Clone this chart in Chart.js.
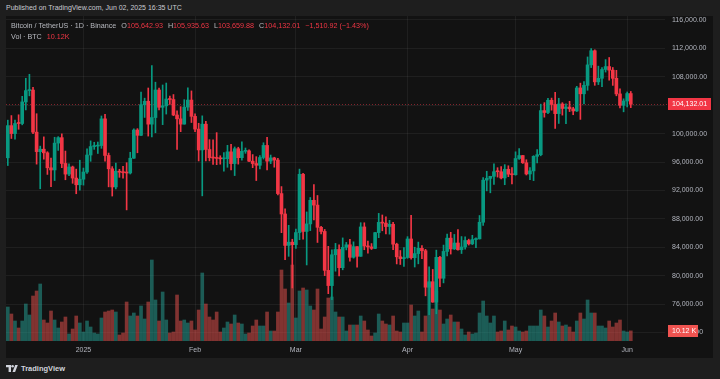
<!DOCTYPE html>
<html><head><meta charset="utf-8"><title>BTCUSDT 1D</title>
<script src="https://cdn.jsdelivr.net/npm/chart.js@4.4.1/dist/chart.umd.min.js"></script>
<style>
*{box-sizing:border-box}
html,body{margin:0;padding:0;width:720px;height:379px;overflow:hidden;background:#1e1e1e;font-family:"Liberation Sans",Arial,sans-serif;}
#pub{position:absolute;left:6px;top:3px;font-size:7px;line-height:10px;color:#c9cbd1;white-space:nowrap}
#panel{position:absolute;left:6px;top:16px;width:707px;height:342px;background:#121212;overflow:hidden}
#c{position:absolute;left:0;top:0}
#lg{position:absolute;left:5px;top:4px;font-size:7.2px;line-height:11px;color:#b8bac0;white-space:nowrap;z-index:2}
#lg .r{color:#f23645}
#lg .g{margin-left:3px}
#brand{position:absolute;left:6px;top:363px;height:11px;display:flex;align-items:center;gap:3px;color:#d1d4dc;font-size:7.5px;font-weight:bold;white-space:nowrap}
</style></head><body>
<div id="pub">Published on TradingView.com, Jun 02, 2025 16:35 UTC</div>
<div id="panel">
  <canvas id="c" width="707" height="342"></canvas>
  <div id="lg">
    <div>Bitcoin / TetherUS · 1D · Binance <span class="g">O</span><span class="r" id="vo"></span> <span class="g">H</span><span class="r" id="vh"></span> <span class="g">L</span><span class="r" id="vl"></span> <span class="g">C</span><span class="r" id="vc"></span> <span class="r g" id="vch"></span></div>
    <div>Vol · BTC <span class="r" id="vv" style="margin-left:3px"></span></div>
  </div>
</div>
<div id="brand"><svg width="12" height="7" viewBox="0 0 12 7"><path d="M0 0h5v7H2.6V2.3H0z" fill="#d1d4dc"/><circle cx="6.6" cy="1.3" r="1.3" fill="#d1d4dc"/><path d="M9.2 0h2.6L9.1 7H6.5z" fill="#d1d4dc"/></svg><span>TradingView</span></div>
<script>
// ---- categories (daily candles) ----
const dates = [
"2024-12-11","2024-12-12","2024-12-13","2024-12-14","2024-12-15","2024-12-16","2024-12-17","2024-12-18","2024-12-19","2024-12-20","2024-12-21","2024-12-22","2024-12-23","2024-12-24","2024-12-25","2024-12-26","2024-12-27","2024-12-28","2024-12-29","2024-12-30","2024-12-31",
"2025-01-01","2025-01-02","2025-01-03","2025-01-04","2025-01-05","2025-01-06","2025-01-07","2025-01-08","2025-01-09","2025-01-10","2025-01-11","2025-01-12","2025-01-13","2025-01-14","2025-01-15","2025-01-16","2025-01-17","2025-01-18","2025-01-19","2025-01-20","2025-01-21","2025-01-22","2025-01-23","2025-01-24","2025-01-25","2025-01-26","2025-01-27","2025-01-28","2025-01-29","2025-01-30","2025-01-31",
"2025-02-01","2025-02-02","2025-02-03","2025-02-04","2025-02-05","2025-02-06","2025-02-07","2025-02-08","2025-02-09","2025-02-10","2025-02-11","2025-02-12","2025-02-13","2025-02-14","2025-02-15","2025-02-16","2025-02-17","2025-02-18","2025-02-19","2025-02-20","2025-02-21","2025-02-22","2025-02-23","2025-02-24","2025-02-25","2025-02-26","2025-02-27","2025-02-28",
"2025-03-01","2025-03-02","2025-03-03","2025-03-04","2025-03-05","2025-03-06","2025-03-07","2025-03-08","2025-03-09","2025-03-10","2025-03-11","2025-03-12","2025-03-13","2025-03-14","2025-03-15","2025-03-16","2025-03-17","2025-03-18","2025-03-19","2025-03-20","2025-03-21","2025-03-22","2025-03-23","2025-03-24","2025-03-25","2025-03-26","2025-03-27","2025-03-28","2025-03-29","2025-03-30","2025-03-31",
"2025-04-01","2025-04-02","2025-04-03","2025-04-04","2025-04-05","2025-04-06","2025-04-07","2025-04-08","2025-04-09","2025-04-10","2025-04-11","2025-04-12","2025-04-13","2025-04-14","2025-04-15","2025-04-16","2025-04-17","2025-04-18","2025-04-19","2025-04-20","2025-04-21","2025-04-22","2025-04-23","2025-04-24","2025-04-25","2025-04-26","2025-04-27","2025-04-28","2025-04-29","2025-04-30",
"2025-05-01","2025-05-02","2025-05-03","2025-05-04","2025-05-05","2025-05-06","2025-05-07","2025-05-08","2025-05-09","2025-05-10","2025-05-11","2025-05-12","2025-05-13","2025-05-14","2025-05-15","2025-05-16","2025-05-17","2025-05-18","2025-05-19","2025-05-20","2025-05-21","2025-05-22","2025-05-23","2025-05-24","2025-05-25","2025-05-26","2025-05-27","2025-05-28","2025-05-29","2025-05-30","2025-05-31",
"2025-06-01","2025-06-02"];
// empty slots to the right of the last candle
const rightPadSlots = ["p1","p2","p3","p4","p5","p6","p7","p8","p9"];

// ---- series values (USDT) ----
const opens = [
96593,101125,100004,101424,101420,104463,106058,106133,100204,97461,97805,97291,95186,94881,98663,99430,95792,94299,95301,93738,92792,
93576,94591,96984,98174,98236,98314,102078,96922,95043,92484,94701,94566,94488,94450,96534,100504,99756,104078,104556,101331,102260,106143,103706,103910,104871,104796,102620,102082,101335,103733,104722,
102429,100635,97700,101328,97763,96612,96554,96506,96444,96462,97430,95778,97869,96609,97500,97569,96118,95780,95539,96635,98333,96125,96577,96273,91552,88680,84250,84708,
84350,86064,94270,86220,87281,90606,89931,86801,86222,80734,78596,82932,83680,81116,83983,84338,82579,84075,82718,86855,84167,84044,83832,86054,87498,87392,86910,87232,84424,82648,82390,
82550,85159,82516,83102,83843,83504,78368,79140,76271,82573,79627,83404,85276,83760,84592,83643,84031,84947,84474,85077,85179,87516,93442,93691,93980,94638,94631,93755,94978,94284,
94207,96492,96910,95891,94315,94748,96802,97032,103241,102970,104696,104106,102812,104169,103539,103744,103489,103191,106430,105606,106792,109679,111673,107287,107792,109034,109440,108938,107781,105589,103985,
104591,105642.93];
const highs = [
101895,102540,101895,102650,105250,107793,108353,106524,102800,98233,99540,97448,96538,99487,99569,99963,97544,95733,95426,95000,96250,
95150,97839,98976,98778,98813,102482,102724,97258,95350,95837,94977,95400,95900,97371,100681,100700,105865,104988,106422,109588,107240,106394,106850,107120,105286,105500,103222,103800,104782,106457,106012,
102784,101456,102500,101743,99149,99120,100137,96880,97323,98345,98478,98119,98080,98826,97972,97725,97046,96753,96899,98711,99475,96980,96671,96503,92540,89414,87078,85120,
86558,95000,94416,88967,91000,92810,91283,86940,86500,84124,83617,84540,84336,85310,84676,85117,84757,84075,87453,87443,84850,84513,86094,88765,88539,88292,87786,87515,84567,83534,83943,
85487,88500,83998,84720,84234,83704,81243,80868,83588,82700,84300,85856,86100,85800,86497,85500,85470,85132,85677,85320,88465,93817,94696,94000,95758,95199,95369,95630,95470,95199,
97438,97895,96943,96318,95199,96889,97732,104145,104361,104984,105000,105819,104976,104356,104192,104550,103716,106660,107108,107320,110797,111980,111800,109500,109313,110422,110718,109313,108910,106313,104900,
105866,105935.63];
const lows = [
95503,99311,99205,100609,101237,103333,105321,100000,95700,92232,96398,94250,92520,93390,97632,95200,93500,94080,93000,91530,92033,
92745,94392,96100,97780,97200,97926,96132,92500,91203,92206,93840,93712,89256,94310,96500,97300,99700,102277,99651,99550,100119,103340,101262,102750,104106,102520,97777,100272,101328,103278,101560,
100279,96150,91231,96150,96155,95676,95620,95688,94713,95256,94876,94088,95700,96252,97223,96055,95205,93388,95030,96415,94871,95770,95270,91371,86050,82256,82716,78258,
83824,85050,85117,81500,86335,87836,84667,85878,80000,77459,76606,80620,79939,80818,83618,82017,82457,81180,82715,83647,83175,83675,83794,85346,86310,85862,85837,83646,81644,81565,81279,
82432,82320,81211,81659,82368,77153,74508,76239,74620,78456,78972,82769,83034,83678,83600,83111,83736,84303,84365,83949,85144,87084,91935,91660,92855,93871,93602,92800,93935,92910,
94139,96350,95800,94172,93514,93377,95855,96876,102315,102818,103300,100719,101429,102602,101383,103100,102659,103105,102000,104191,106102,109300,106800,106900,106600,108668,107522,106789,105322,103621,103068,
103752,103659.88];
const closes = [
101125,100004,101424,101420,104463,106058,106133,100204,97461,97805,97291,95186,94881,98663,99430,95792,94299,95301,93738,92792,93576,
94591,96984,98174,98236,98314,102078,96922,95043,92484,94701,94566,94488,94450,96534,100504,99756,104078,104556,101331,102260,106143,103706,103910,104871,104796,102620,102082,101335,103733,104722,102429,
100635,97700,101328,97763,96612,96554,96506,96444,96462,97430,95778,97869,96609,97500,97569,96118,95780,95539,96635,98333,96125,96577,96273,91552,88680,84250,84708,84350,
86064,94270,86220,87281,90606,89931,86801,86222,80734,78596,82932,83680,81116,83983,84338,82579,84075,82718,86855,84167,84044,83832,86054,87498,87392,86910,87232,84424,82648,82390,82550,
85159,82516,83102,83843,83504,78368,79140,76271,82573,79627,83404,85276,83760,84592,83643,84031,84947,84474,85077,85179,87516,93442,93691,93980,94638,94631,93755,94978,94284,94207,
96492,96910,95891,94315,94748,96802,97032,103241,102970,104696,104106,102812,104169,103539,103744,103489,103191,106430,105606,106792,109679,111673,107287,107792,109034,109440,108938,107781,105589,103985,104591,
105642.93,104132.01];
// volume, thousands of BTC
const volumes = [
34,27,20,13,20,37,26,45,50,57,21,18,30,21,13,19,24,7,12,25,18,
9,20,14,8,7,23,29,30,31,29,6,8,39,25,28,25,35,22,39,81,41,20,49,21,8,9,46,20,21,18,20,
11,31,68,37,24,21,29,9,13,19,17,26,18,17,7,8,15,21,15,15,29,10,10,29,71,52,38,76,
23,50,53,51,35,31,52,12,24,43,44,29,24,24,10,16,16,16,25,20,11,5,8,27,20,17,16,25,10,9,18,
18,36,25,30,9,25,58,32,50,31,17,22,26,19,19,12,6,9,7,8,28,40,25,18,25,9,10,20,11,15,
14,10,9,10,15,15,15,31,25,14,20,28,19,15,16,14,9,20,28,22,41,28,28,15,15,13,20,14,18,21,10,
9,10.12];

// ---- tick labels ----
const monthTicks = {"2025-01-01":"2025","2025-02-01":"Feb","2025-03-01":"Mar","2025-04-01":"Apr","2025-05-01":"May","2025-06-01":"Jun"};
const priceTicks = [72000,76000,80000,84000,88000,92000,96000,100000,104000,108000,112000,116000];

// ---- styling ----
const UP = '#089981', DN = '#f23645';
const VUP = 'rgba(38,166,154,0.5)', VDN = 'rgba(239,83,80,0.5)';
const GRID = 'rgba(255,255,255,0.055)';
const AXIS_TXT = '#b2b5be';
const FONT = '"Liberation Sans", Arial, sans-serif';

const N = dates.length;
const labels = dates.concat(rightPadSlots);
const isUp = closes.map((c, i) => c >= opens[i]);
const fmt = v => v.toLocaleString('en-US', {minimumFractionDigits: 2, maximumFractionDigits: 2});
const lastClose = closes[N - 1], lastOpen = opens[N - 1], lastVol = volumes[N - 1];

// legend texts
document.getElementById('vo').textContent = fmt(opens[N-1]);
document.getElementById('vh').textContent = fmt(highs[N-1]);
document.getElementById('vl').textContent = fmt(lows[N-1]);
document.getElementById('vc').textContent = fmt(closes[N-1]);
const chg = closes[N-1] - closes[N-2];
document.getElementById('vch').textContent = (chg < 0 ? '\u2212' : '+') + fmt(Math.abs(chg)) + ' (' + (chg < 0 ? '\u2212' : '+') + Math.abs(chg / closes[N-2] * 100).toFixed(2) + '%)';
document.getElementById('vv').textContent = lastVol.toFixed(2) + 'K';

const overlay = {
  id: 'overlay',
  beforeDatasetsDraw(chart) {
    const {ctx, chartArea: a, scales: {y}} = chart;
    const py = Math.round(y.getPixelForValue(lastClose)) + 0.5;
    ctx.save();
    ctx.strokeStyle = 'rgba(242,54,69,0.5)';
    ctx.lineWidth = 1;
    ctx.setLineDash([1, 2]);
    ctx.beginPath(); ctx.moveTo(a.left, py); ctx.lineTo(a.right + 3, py); ctx.stroke();
    ctx.restore();
  },
  afterDraw(chart) {
    const {ctx, chartArea: a, scales: {y, v}} = chart;
    ctx.save();
    ctx.font = '7px ' + FONT;
    ctx.textBaseline = 'middle';
    // price label
    const py = Math.round(y.getPixelForValue(lastClose));
    ctx.fillStyle = lastClose >= lastOpen ? UP : DN;
    ctx.fillRect(a.right + 3, py - 6, 43, 12);
    ctx.fillStyle = '#ffffff';
    ctx.fillText(fmt(lastClose), a.right + 7, py + 0.5);
    // volume label
    const vy = Math.round(v.getPixelForValue(lastVol));
    ctx.fillStyle = lastClose >= lastOpen ? '#26a69a' : '#ef5350';
    ctx.fillRect(a.right + 3, vy - 6, 30, 12);
    ctx.fillStyle = '#ffffff';
    ctx.fillText(lastVol.toFixed(2) + ' K', a.right + 7, vy + 0.5);
    ctx.restore();
  }
};

new Chart(document.getElementById('c'), {
  data: {
    labels: labels,
    datasets: [
      { type: 'bar', label: 'Body', data: opens.map((o, i) => [o, closes[i]]),
        backgroundColor: isUp.map(u => u ? UP : DN), barThickness: 3, minBarLength: 1,
        borderWidth: 0, grouped: false, order: 1, yAxisID: 'y' },
      { type: 'bar', label: 'Wick', data: lows.map((l, i) => [l, highs[i]]),
        backgroundColor: isUp.map(u => u ? UP : DN), barThickness: 1,
        borderWidth: 0, grouped: false, order: 2, yAxisID: 'y' },
      { type: 'bar', label: 'Volume', data: volumes,
        backgroundColor: isUp.map(u => u ? VUP : VDN), barThickness: 3,
        borderWidth: 0, grouped: false, order: 3, yAxisID: 'v' }
    ]
  },
  options: {
    responsive: false, animation: false, devicePixelRatio: 1,
    layout: { padding: 0 },
    plugins: { legend: { display: false }, tooltip: { enabled: false } },
    scales: {
      x: {
        type: 'category', offset: true,
        grid: { offset: false, drawTicks: false, lineWidth: 1,
          color: ctx => (monthTicks[labels[ctx.index]] ? GRID : 'rgba(0,0,0,0)') },
        border: { display: false },
        ticks: { autoSkip: false, maxRotation: 0, minRotation: 0, padding: 5, color: AXIS_TXT,
          font: { size: 7, family: FONT },
          callback: (val, i) => monthTicks[labels[i]] || '' },
        afterFit(s) { s.height = 17; s.paddingLeft = 0; s.paddingRight = 0; }
      },
      y: {
        position: 'right', min: 70790, max: 116563,
        afterBuildTicks(s) { s.ticks = priceTicks.map(v => ({ value: v })); },
        grid: { color: GRID, drawTicks: false },
        border: { display: false },
        ticks: { padding: 7, color: AXIS_TXT, font: { size: 7, family: FONT }, callback: v => fmt(v) },
        afterFit(s) { s.width = 48; s.paddingTop = 0; s.paddingBottom = 0; }
      },
      v: { display: false, min: 0, max: 325 }
    }
  },
  plugins: [overlay]
});
</script>
</body></html>
